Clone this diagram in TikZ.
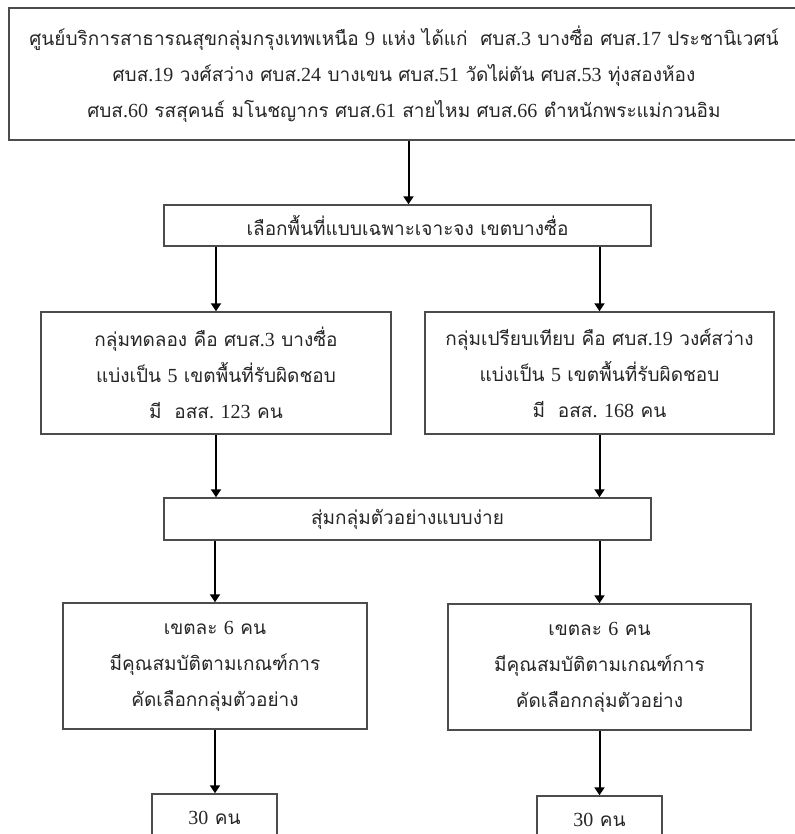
\documentclass[tikz,border=0pt]{standalone}
\usepackage{fontspec}
\setmainfont[Script=Thai]{Loma}
\newfontfamily\latn{Liberation Serif}
\newcommand{\nm}[1]{{\latn\fontsize{20bp}{36bp}\selectfont #1}}
\usetikzlibrary{arrows.meta}
\begin{document}
\begin{tikzpicture}[x=1bp,y=-1bp,
  box/.style={draw=black!70,line width=1.5bp,inner sep=0pt,align=center,text=black!85,
    font=\fontsize{19bp}{36bp}\selectfont},
  arr/.style={draw=black,line width=2bp,-{Triangle[length=8bp,width=10bp]}}]
\useasboundingbox (0,0) rectangle (795,834);
\fill[white] (0,0) rectangle (795,834);
\node[box,minimum width=790bp,minimum height=132bp] (top) at (404,74)
  {ศูนย์บริการสาธารณสุขกลุ่มกรุงเทพเหนือ \nm{9} แห่ง ได้แก่ \ ศบส\nm{.3} บางซื่อ ศบส\nm{.17} ประชานิเวศน์\\
   ศบส\nm{.19} วงศ์สว่าง ศบส\nm{.24} บางเขน ศบส\nm{.51} วัดไผ่ตัน ศบส\nm{.53} ทุ่งสองห้อง\\
   ศบส\nm{.60} รสสุคนธ์ มโนชญากร ศบส\nm{.61} สายไหม ศบส\nm{.66} ตำหนักพระแม่กวนอิม};
\node[box,minimum width=487bp,minimum height=41bp] (sel) at (407.5,225.5)
  {เลือกพื้นที่แบบเฉพาะเจาะจง เขตบางซื่อ};
\node[box,minimum width=350bp,minimum height=122bp] (expg) at (216,373)
  {กลุ่มทดลอง คือ ศบส\nm{.3} บางซื่อ\\ แบ่งเป็น \nm{5} เขตพื้นที่รับผิดชอบ\\ มี \ อสส\nm{. 123} คน};
\node[box,minimum width=349bp,minimum height=122bp] (cmpg) at (599.5,373)
  {กลุ่มเปรียบเทียบ คือ ศบส\nm{.19} วงศ์สว่าง\\ แบ่งเป็น \nm{5} เขตพื้นที่รับผิดชอบ\\ มี \ อสส\nm{. 168} คน};
\node[box,minimum width=487bp,minimum height=42bp] (rnd) at (407.5,519)
  {สุ่มกลุ่มตัวอย่างแบบง่าย};
\node[box,minimum width=304bp,minimum height=126bp] (zl) at (215,666)
  {เขตละ \nm{6} คน\\ มีคุณสมบัติตามเกณฑ์การ\\ คัดเลือกกลุ่มตัวอย่าง};
\node[box,minimum width=303bp,minimum height=126bp] (zr) at (599.5,667)
  {เขตละ \nm{6} คน\\ มีคุณสมบัติตามเกณฑ์การ\\ คัดเลือกกลุ่มตัวอย่าง};
\node[box,minimum width=125bp,minimum height=48bp] (nl) at (214.5,818) {\nm{30} คน};
\node[box,minimum width=125bp,minimum height=48bp] (nr) at (599.5,820) {\nm{30} คน};
\draw[arr] (top.south -| sel.north) ++(1,0) coordinate (t0) (t0) -- (t0 |- sel.north);
\draw[arr] (sel.south -| expg.north) -- (expg.north);
\draw[arr] (sel.south -| cmpg.north) -- (cmpg.north);
\draw[arr] (expg.south) -- (rnd.north -| expg.south);
\draw[arr] (cmpg.south) -- (rnd.north -| cmpg.south);
\draw[arr] (rnd.south -| zl.north) -- (zl.north);
\draw[arr] (rnd.south -| zr.north) -- (zr.north);
\draw[arr] (zl.south) -- (nl.north -| zl.south);
\draw[arr] (zr.south) -- (nr.north -| zr.south);
\end{tikzpicture}
\end{document}
